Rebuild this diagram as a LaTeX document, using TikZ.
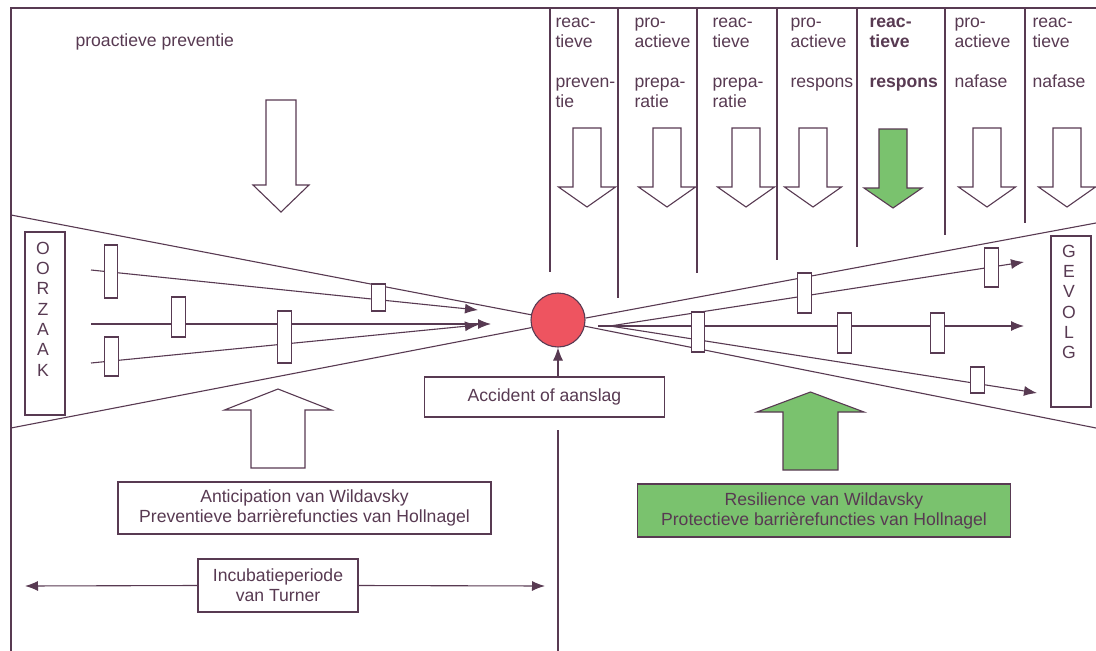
\documentclass[tikz,border=0pt]{standalone}
\usepackage{fontspec}
\setmainfont{Liberation Sans}
\usetikzlibrary{arrows.meta}
\definecolor{ink}{RGB}{88,58,82}
\definecolor{leafgreen}{RGB}{122,194,110}
\definecolor{alarmred}{RGB}{238,84,96}
\newcommand{\BlockArrow}[7]{%
  \path[#7] (#1-#5,#2) -- (#1+#5,#2) -- (#1+#5,#3) -- (#1+#6,#3) -- (#1,#4)
    -- (#1-#6,#3) -- (#1-#5,#3) -- cycle;}
\begin{document}
\begin{tikzpicture}[x=1pt,y=-1pt,
  line width=1.1pt, draw=ink, text=ink,
  every node/.style={font=\fontsize{17.6}{20}\selectfont, text=ink},
  ln/.style={draw=ink, line width=1.1pt},
  arr/.style={ln, -{Latex[length=13pt,width=10pt]}},
  barrier/.style={draw=ink, fill=white, line width=1.1pt, inner sep=0pt, minimum width=13.5pt},
  coltext/.style={anchor=north west, align=left, inner sep=0pt},
  boldtext/.style={coltext, font=\fontsize{17.6}{20}\selectfont\bfseries},
  labelbox/.style={draw=ink, line width=1.1pt, align=center, inner sep=0pt},
  hollow/.style={draw=ink, fill=white, line width=1.1pt},
  greenfill/.style={draw=ink, fill=leafgreen, line width=1.1pt},
  letters/.style={align=center, inner sep=0pt, font=\fontsize{17.6}{20.3}\selectfont}
]
\useasboundingbox (0,0) rectangle (1096,651);
\fill[white] (0,0) rectangle (1096,651);

% frame
\draw[ln] (11,651) -- (11,8) -- (1096,8);
% column separators
\draw[ln] (550,8) -- (550,272);
\draw[ln] (618,8) -- (618,298);
\draw[ln] (697,8) -- (697,273);
\draw[ln] (777,8) -- (777,260);
\draw[ln] (857,8) -- (857,247);
\draw[ln] (945,8) -- (945,235);
\draw[ln] (1025,8) -- (1025,223);
% lower centre line
\draw[ln] (558,430) -- (558,651);

% column texts
\node[coltext] (t1a) at (555,13) {\strut reac-\\tieve};
\node[coltext] (t1b) at (555,73) {\strut preven-\\tie};
\node[coltext] (t2a) at (634,13) {\strut pro-\\actieve};
\node[coltext] (t2b) at (634,73) {\strut prepa-\\ratie};
\node[coltext] (t3a) at (712,13) {\strut reac-\\tieve};
\node[coltext] (t3b) at (712,73) {\strut prepa-\\ratie};
\node[coltext] (t4a) at (790,13) {\strut pro-\\actieve};
\node[coltext] (t4b) at (790,73) {\strut respons};
\node[boldtext] (t5a) at (869,13) {\strut reac-\\tieve};
\node[boldtext] (t5b) at (869,73) {\strut respons};
\node[coltext] (t6a) at (954,13) {\strut pro-\\actieve};
\node[coltext] (t6b) at (954,73) {\strut nafase};
\node[coltext] (t7a) at (1032,13) {\strut reac-\\tieve};
\node[coltext] (t7b) at (1032,73) {\strut nafase};

\node[coltext] (pp) at (75,32) {\strut proactieve preventie};

% down block arrows
\BlockArrow{281}{100}{185}{212}{15}{28}{hollow}
\BlockArrow{587}{128}{187}{207}{14}{28.5}{hollow}
\BlockArrow{667}{128}{187}{207}{14}{28.5}{hollow}
\BlockArrow{746}{128}{187}{207}{14}{28.5}{hollow}
\BlockArrow{813}{128}{187}{207}{14}{28.5}{hollow}
\BlockArrow{893}{129}{188}{208}{14}{29}{greenfill}
\BlockArrow{987}{128}{187}{207}{14}{28.5}{hollow}
\BlockArrow{1067}{128}{187}{207}{14}{28.5}{hollow}

% up block arrows
\BlockArrow{278}{468}{410}{389}{27}{53.5}{hollow}
\BlockArrow{810.5}{470}{412}{392}{27.5}{53.5}{greenfill}

% central event
\node[circle, draw=ink, fill=alarmred, line width=1.1pt, minimum size=54pt, inner sep=0pt] (circ) at (558,320) {};

% funnel
\draw[ln] (11,215) -- (circ.169);
\draw[ln] (11,428) -- (circ.196);
\draw[ln] (circ.4) -- (1096,223);
\draw[ln] (circ.347) -- (1096,428);

% left causal lines
\coordinate (la0) at (91,270);  \coordinate (la1) at (478,310);
\coordinate (lb0) at (91,324);  \coordinate (lb1) at (491,324);
\coordinate (lc0) at (91,363);  \coordinate (lc1) at (478,325);
\draw[arr] (la0) -- (la1);
\draw[arr] (lb0) -- (lb1);
\draw[arr] (lc0) -- (lc1);

% right consequence lines
\coordinate (ra0) at (610,326); \coordinate (ra1) at (1024,262);
\coordinate (rb0) at (598,326); \coordinate (rb1) at (1024,326);
\coordinate (rc0) at (610,326); \coordinate (rc1) at (1037,393);
\draw[arr] (ra0) -- (ra1);
\draw[arr] (rb0) -- (rb1);
\draw[arr] (rc0) -- (rc1);

% barriers
\node[barrier, minimum height=53pt] (b1) at (111,271.5) {};
\node[barrier, minimum height=27pt] (b2) at (378.5,297.5) {};
\node[barrier, minimum height=40pt] (b3) at (178.5,317) {};
\node[barrier, minimum height=52pt] (b4) at (284.5,337) {};
\node[barrier, minimum height=39pt] (b5) at (111.5,356.5) {};
\node[barrier, minimum height=40pt] (b6) at (804.5,293) {};
\node[barrier, minimum height=39pt] (b7) at (991.5,267.5) {};
\node[barrier, minimum height=40pt] (b8) at (698,332) {};
\node[barrier, minimum height=40pt] (b9) at (844.5,333) {};
\node[barrier, minimum height=40pt] (b10) at (937.5,333) {};
\node[barrier, minimum height=26pt] (b11) at (977.5,380) {};

% cause / effect boxes
\node[draw=ink, line width=1.1pt, minimum width=40pt, minimum height=183pt, inner sep=0pt] (oorzaak) at (45,323.5) {};
\node[letters] (oorzaakT) at (43,309) {O\\O\\R\\Z\\A\\A\\K};
\node[draw=ink, line width=1.1pt, minimum width=40pt, minimum height=171pt, inner sep=0pt] (gevolg) at (1071,321.5) {};
\node[letters] (gevolgT) at (1069,302) {G\\E\\V\\O\\L\\G};

% accident box
\node[labelbox, minimum width=240pt, minimum height=40pt] (acc) at (544.5,397) {Accident of aanslag};
\draw[arr] (acc.north -| circ.center) -- (circ.south);

% lower boxes
\node[labelbox, minimum width=373pt, minimum height=52pt] (antic) at (304.5,508) {Anticipation van Wildavsky\\Preventieve barrièrefuncties van Hollnagel};
\node[labelbox, fill=leafgreen, minimum width=373pt, minimum height=53pt] (resil) at (824,510.5) {Resilience van Wildavsky\\Protectieve barrièrefuncties van Hollnagel};
\node[labelbox, minimum width=160pt, minimum height=53pt] (incub) at (278,585.5) {Incubatieperiode\\van Turner};
\coordinate (incL) at (25,586);
\coordinate (incR) at (545,586);
\draw[arr] (incub.west) -- (incL);
\draw[arr] (incub.east) -- (incR);
\end{tikzpicture}
\end{document}
